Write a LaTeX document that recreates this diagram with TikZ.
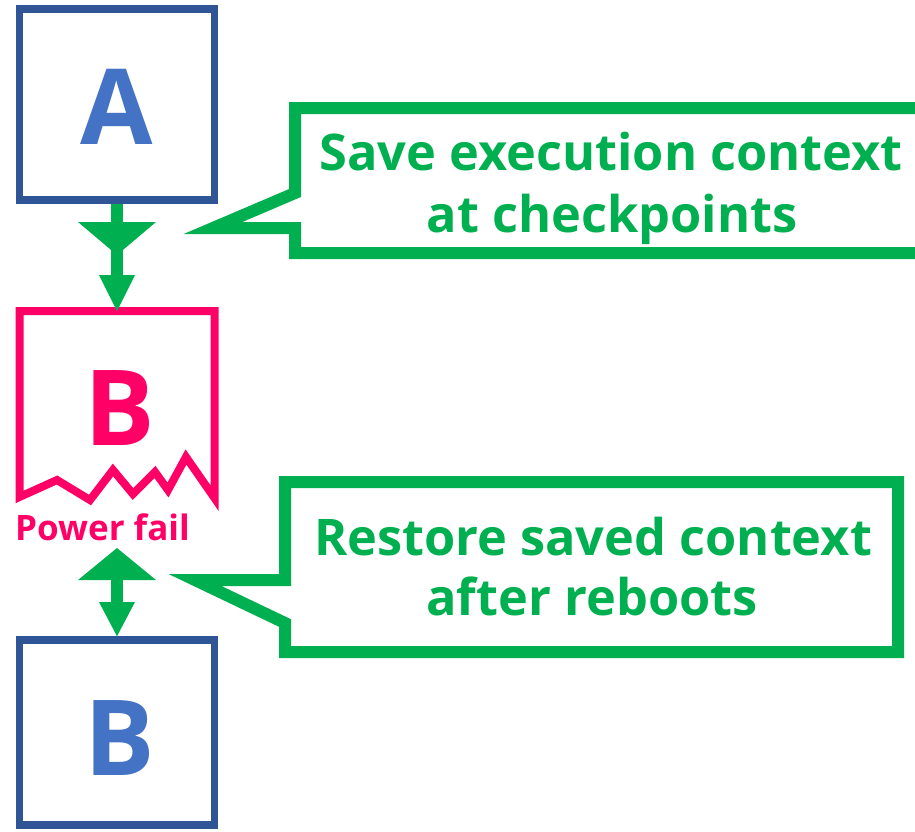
\documentclass[tikz,border=0pt]{standalone}
\usepackage{fontspec}
\setmainfont{Open Sans}
\definecolor{boxblue}{HTML}{2F5597}
\definecolor{letterblue}{HTML}{4472C4}
\definecolor{failpink}{HTML}{FF0066}
\definecolor{notegreen}{HTML}{00B050}
\begin{document}
\begin{tikzpicture}[x=1pt,y=-1pt,
  blockbox/.style={draw=boxblue,line width=7.5pt,minimum width=195pt,inner sep=0pt},
  bigletter/.style={font=\bfseries\fontsize{105}{105}\selectfont,anchor=base,inner sep=0pt},
  calloutline/.style={draw=notegreen,line width=12pt,line join=miter,miter limit=10},
  calloutfont/.style={font=\bfseries\fontsize{50.5}{60}\selectfont,text=notegreen,anchor=base,inner sep=0pt},
  arrowfill/.style={fill=notegreen,draw=none}]
\clip (0,0) rectangle (915,831);
\useasboundingbox (0,0) rectangle (915,831);

% block A
\node[blockbox,minimum height=191pt] (blockA) at (117,104.5) {};
\node[bigletter,text=letterblue] (letA) at (117,144) {A};

% interrupted block B
\draw[failpink,line width=8pt,line join=miter]
  (19.5,497) -- (19.5,311) -- (214.5,311) -- (214.5,498)
  -- (186,457) -- (168,490) -- (155,472) -- (133,494)
  -- (113,470) -- (90,500) -- (57,480) -- cycle;
\coordinate (failtop) at (117,311);
\node[bigletter,text=failpink] (letBfail) at (119.5,445) {B};
\node[font=\bfseries\fontsize{35}{35}\selectfont,text=failpink,anchor=base west,inner sep=0pt]
  (powerfail) at (15,540) {Power fail};

% block B after reboot
\node[blockbox,minimum height=185pt] (blockB) at (117,732.5) {};
\node[bigletter,text=letterblue] (letB) at (119.5,775) {B};

% checkpoint arrow from A to the failing B
\draw[notegreen,line width=12pt] (blockA.south) -- (117,277);
\fill[arrowfill] (78,222) -- (156,222) -- (117,255) -- cycle;
\fill[arrowfill] (99,275) -- (135,275) -- (failtop) -- cycle;

% restore arrow between power fail and block B
\draw[notegreen,line width=12pt] (117,578) -- (117,604);
\fill[arrowfill] (117,548) -- (156,580) -- (78,580) -- cycle;
\fill[arrowfill] (99,602) -- (135,602) -- (blockB.north) -- cycle;

% callout: save context
\draw[calloutline] (935,108) -- (295,108) -- (295,193) -- (213,228)
  -- (295,228) -- (295,253) -- (935,253);
\node[calloutfont] (save1) at (611,170) {Save execution context};
\node[calloutfont] (save2) at (612,232) {at checkpoints};

% callout: restore context
\draw[calloutline] (898,482) -- (285,482) -- (285,580) -- (195,580)
  -- (285,623) -- (285,652) -- (898,652) -- cycle;
\node[calloutfont] (rest1) at (593,555) {Restore saved context};
\node[calloutfont] (rest2) at (592,615) {after reboots};
\end{tikzpicture}
\end{document}
